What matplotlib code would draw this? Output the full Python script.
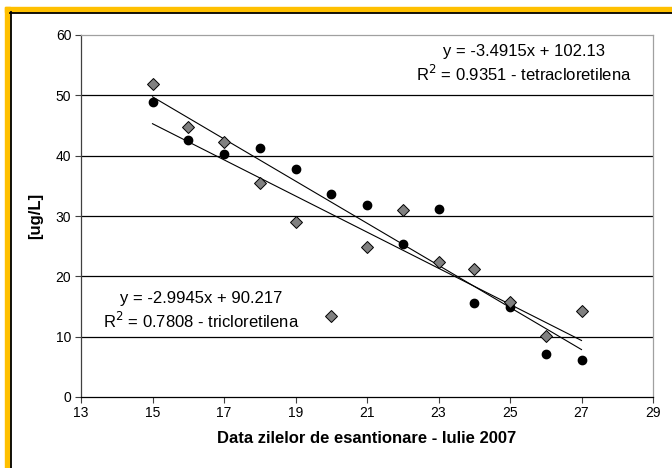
import matplotlib
matplotlib.use("Agg")
import matplotlib.pyplot as plt
from matplotlib.patches import Rectangle
from matplotlib.lines import Line2D
import numpy as np

plt.rcParams['font.family'] = ['Liberation Sans', 'DejaVu Sans']

days = [15, 16, 17, 18, 19, 20, 21, 22, 23, 24, 25, 26, 27]
tetracloretilena = [48.9, 42.6, 40.3, 41.2, 37.8, 33.7, 31.8, 25.3, 31.1, 15.6, 14.9, 7.2, 6.1]
tricloretilena = [51.8, 44.8, 42.3, 35.4, 29.0, 13.4, 24.8, 31.0, 22.3, 21.2, 15.8, 10.1, 14.3]

fit_tetra = (-3.4915, 102.13)
fit_tri = (-2.9945, 90.217)
label_tetra = "y = -3.4915x + 102.13\nR$^2$ = 0.9351 - tetracloretilena"
label_tri = "y = -2.9945x + 90.217\nR$^2$ = 0.7808 - tricloretilena"

xticks = [13, 15, 17, 19, 21, 23, 25, 27, 29]
yticks = [0, 10, 20, 30, 40, 50, 60]
xlabel = "Data zilelor de esantionare - Iulie 2007"
ylabel = "[ug/L]"

W, H = 672, 468
fig = plt.figure(figsize=(W / 100, H / 100), dpi=100)

# frame: orange band + black line
orange = '#FFC000'
fig.patches.append(Rectangle((5 / W, 0), 5 / W, 1 - 7 / H, transform=fig.transFigure,
                             color=orange, zorder=0))
fig.patches.append(Rectangle((5 / W, 1 - 12 / H), 1, 5 / H, transform=fig.transFigure,
                             color=orange, zorder=0))
fig.lines.append(Line2D([10.8 / W, 10.8 / W], [0, 1 - 12 / H], transform=fig.transFigure,
                        color='black', lw=1.3))
fig.lines.append(Line2D([10 / W, 1], [1 - 12.8 / H, 1 - 12.8 / H], transform=fig.transFigure,
                        color='black', lw=1.3))

left, right, top, bottom = 81, 653, 35, 397
ax = fig.add_axes([left / W, 1 - bottom / H, (right - left) / W, (bottom - top) / H])

ax.set_xlim(13, 29)
ax.set_ylim(0, 60)
ax.set_xticks(xticks)
ax.set_yticks(yticks)
ax.tick_params(axis='both', labelsize=10, direction='out', length=4, width=0.8, color='#404040')
ax.tick_params(axis='x', pad=2.5)
ax.tick_params(axis='y', pad=3)

for y in yticks[1:-1]:
    ax.axhline(y, color='black', lw=0.9, zorder=1)

ax.spines['top'].set_color('#a0a0a0')
ax.spines['right'].set_color('#a0a0a0')
ax.spines['left'].set_color('#404040')
ax.spines['bottom'].set_color('black')
for s in ax.spines.values():
    s.set_linewidth(0.9)

ax.plot(days, tetracloretilena, 'o', color='black', ms=6, zorder=3)
ax.plot(days, tricloretilena, 'D', mfc='#808080', mec='black', mew=0.7, ms=6.5, zorder=3)

xs = np.array([days[0], days[-1]])
ax.plot(xs, fit_tetra[0] * xs + fit_tetra[1], color='black', lw=0.8, zorder=2)
ax.plot(xs, fit_tri[0] * xs + fit_tri[1], color='black', lw=0.8, zorder=2)

fig.text(524 / W, 1 - 64 / H, label_tetra, fontsize=12, ha='center', va='center',
         linespacing=1.25)
fig.text(201 / W, 1 - 311 / H, label_tri, fontsize=12, ha='center', va='center',
         linespacing=1.25)

ax.set_xlabel(xlabel, fontsize=12, fontweight='bold', labelpad=8)
ax.set_ylabel(ylabel, fontsize=12, fontweight='bold', labelpad=9)

fig.savefig('out.png', dpi=100)
